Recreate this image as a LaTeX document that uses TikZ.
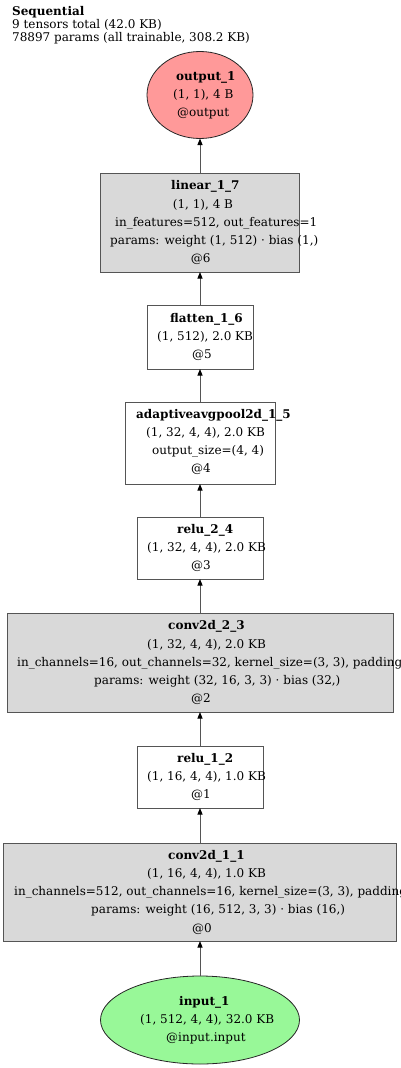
\documentclass[tikz,border=0pt]{standalone}
\usepackage{fontspec}
\setmainfont{DejaVu Serif}
\usetikzlibrary{arrows.meta,shapes.geometric}
\definecolor{edgegray}{HTML}{555555}
\definecolor{boxgray}{HTML}{D9D9D9}
\definecolor{outred}{HTML}{FF9999}
\definecolor{ingreen}{HTML}{98F898}
% \boxline{name}{left x}{box centre y}{line offset from middle}{text}
\newcommand\boxline[5]{\node[lntxt] (#1) at (#2,{#3+3.7+(#4)*18.15}) {#5};}
\begin{document}
\begin{tikzpicture}[x=1pt,y=-1pt,
  box/.style={draw=edgegray, line width=0.9pt, inner sep=0pt, outer sep=0pt},
  opbox/.style={box, fill=boxgray},
  plain/.style={box, fill=white},
  oval/.style={ellipse, draw=black!85, line width=0.8pt, inner sep=0pt, outer sep=0pt},
  lntxt/.style={anchor=base west, inner sep=0pt, font=\fontsize{12}{14}\selectfont},
  conn/.style={draw=edgegray, line width=1pt, -{Triangle[length=6.5pt,width=5pt,fill=black,color=black]}}
]
\useasboundingbox (0,0) rectangle (400,1068);
\clip (0,0) rectangle (400,1068);

\node[anchor=north west, align=left, inner sep=0pt, font=\fontsize{12}{13.2}\selectfont] (hdr) at (12,6)
  {\textbf{Sequential}\\9 tensors total (42.0 KB)\\78897 params (all trainable, 308.2 KB)};

% shapes
\node[oval, fill=outred, minimum width=106pt, minimum height=87pt] (out) at (200,95) {};
\node[opbox, minimum width=199pt, minimum height=99pt] (lin) at (200,222.5) {};
\node[plain, minimum width=106pt, minimum height=64pt] (flat) at (200,337) {};
\node[plain, minimum width=150pt, minimum height=82pt] (pool) at (200,443) {};
\node[plain, minimum width=126pt, minimum height=62pt] (relub) at (200,548) {};
\node[opbox, minimum width=386pt, minimum height=99pt] (convb) at (200,662.5) {};
\node[plain, minimum width=126pt, minimum height=62pt] (relua) at (200,777) {};
\node[opbox, minimum width=393pt, minimum height=98pt] (conva) at (200,892) {};
\node[oval, fill=ingreen, minimum width=199pt, minimum height=88pt] (inp) at (200,1020) {};

% texts
\boxline{out1}{176}{95}{-1}{\textbf{output\_1}}
\boxline{out2}{173}{95}{0}{(1, 1), 4 B}
\boxline{out3}{177}{95}{1}{@output}

\boxline{lin1}{171}{222.5}{-2}{\textbf{linear\_1\_7}}
\boxline{lin2}{172.7}{222.5}{-1}{(1, 1), 4 B}
\boxline{lin3}{115}{222.5}{0}{in\_features=512, out\_features=1}
\boxline{lin4}{110}{222.5}{1}{params: weight (1, 512) · bias (1,)}
\boxline{lin5}{190.7}{222.5}{2}{@6}

\boxline{flat1}{170}{337}{-1}{\textbf{flatten\_1\_6}}
\boxline{flat2}{157}{337}{0}{(1, 512), 2.0 KB}
\boxline{flat3}{192}{337}{1}{@5}

\boxline{pool1}{136}{442}{-1.5}{\textbf{adaptiveavgpool2d\_1\_5}}
\boxline{pool2}{146}{442}{-0.5}{(1, 32, 4, 4), 2.0 KB}
\boxline{pool3}{152}{442}{0.5}{output\_size=(4, 4)}
\boxline{pool4}{191}{442}{1.5}{@4}

\boxline{relub1}{177}{548}{-1}{\textbf{relu\_2\_4}}
\boxline{relub2}{147}{548}{0}{(1, 32, 4, 4), 2.0 KB}
\boxline{relub3}{191}{548}{1}{@3}

\boxline{convb1}{168}{662.5}{-2}{\textbf{conv2d\_2\_3}}
\boxline{convb2}{147}{662.5}{-1}{(1, 32, 4, 4), 2.0 KB}
\boxline{convb3}{17}{662.5}{0}{in\_channels=16, out\_channels=32, kernel\_size=(3, 3), padding}
\boxline{convb4}{94}{662.5}{1}{params: weight (32, 16, 3, 3) · bias (32,)}
\boxline{convb5}{191}{662.5}{2}{@2}

\boxline{relua1}{177}{777}{-1}{\textbf{relu\_1\_2}}
\boxline{relua2}{147}{777}{0}{(1, 16, 4, 4), 1.0 KB}
\boxline{relua3}{191}{777}{1}{@1}

\boxline{conva1}{168}{892}{-2}{\textbf{conv2d\_1\_1}}
\boxline{conva2}{147}{892}{-1}{(1, 16, 4, 4), 1.0 KB}
\boxline{conva3}{14}{892}{0}{in\_channels=512, out\_channels=16, kernel\_size=(3, 3), padding}
\boxline{conva4}{91}{892}{1}{params: weight (16, 512, 3, 3) · bias (16,)}
\boxline{conva5}{192}{892}{2}{@0}

\boxline{inp1}{179}{1020}{-1}{\textbf{input\_1}}
\boxline{inp2}{140}{1020}{0}{(1, 512, 4, 4), 32.0 KB}
\boxline{inp3}{166}{1020}{1}{@input.input}

% connectors
\draw[conn] (inp.north) -- (conva.south);
\draw[conn] (conva.north) -- (relua.south);
\draw[conn] (relua.north) -- (convb.south);
\draw[conn] (convb.north) -- (relub.south);
\draw[conn] (relub.north) -- (pool.south);
\draw[conn] (pool.north) -- (flat.south);
\draw[conn] (flat.north) -- (lin.south);
\draw[conn] (lin.north) -- (out.south);
\end{tikzpicture}
\end{document}
